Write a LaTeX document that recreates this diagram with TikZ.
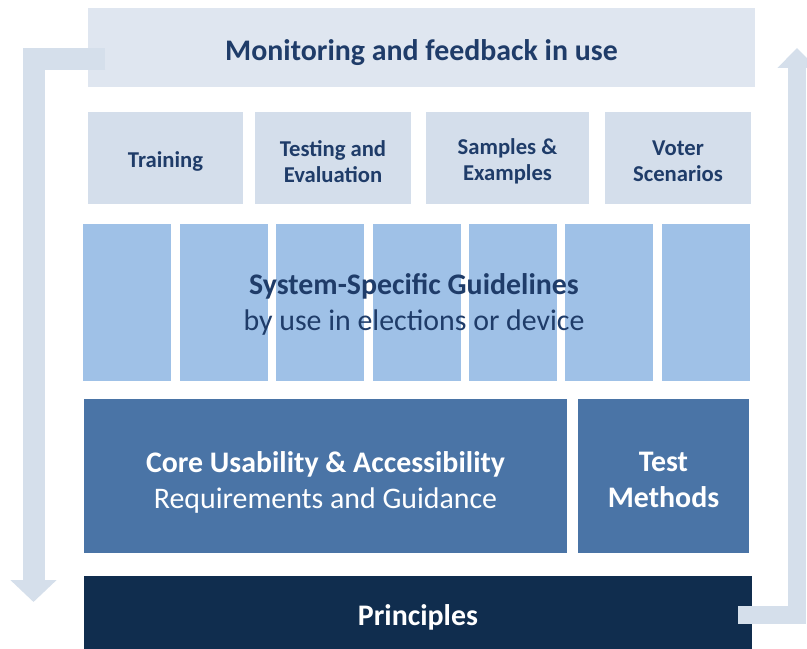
\documentclass[tikz,border=0pt]{standalone}
\usepackage{fontspec}
\setmainfont{Carlito}
\usetikzlibrary{arrows.meta}

\definecolor{topblue}{HTML}{DFE6F0}
\definecolor{rowblue}{HTML}{D4DEEB}
\definecolor{colblue}{HTML}{9FC1E7}
\definecolor{coreblue}{HTML}{4A74A6}
\definecolor{navy}{HTML}{102D4E}
\definecolor{inkblue}{HTML}{1F3C69}
\definecolor{loopblue}{HTML}{D5DFEB}

\begin{document}
\begin{tikzpicture}[x=0.75pt, y=-0.75pt,
  every node/.style={inner sep=0pt, outer sep=0pt, align=center},
  blk/.style 2 args={anchor=north west, minimum width=#1*0.75pt, minimum height=#2*0.75pt},
  bigtext/.style={font=\fontsize{22.4}{27}\selectfont},
  smalltext/.style={font=\fontsize{17}{19.5}\selectfont\bfseries, text=inkblue},
  loop/.style={draw=loopblue, line join=miter}]

  \useasboundingbox (0,0) rectangle (807,649);

  % Monitoring on top
  \node[blk={667}{79}, fill=topblue] (monitor) at (88,8) {};
  \node[bigtext, text=inkblue, yshift=-3.5pt] (monitortxt) at (monitor.center) {\textbf{Monitoring and feedback in use}};

  % Support materials
  \node[blk={155}{92}, fill=rowblue] (training) at (88,112) {};
  \node[blk={156}{92}, fill=rowblue] (testing) at (255,112) {};
  \node[blk={163}{92}, fill=rowblue] (samples) at (426,112) {};
  \node[blk={146}{92}, fill=rowblue] (voter) at (605,112) {};
  \node[smalltext, yshift=-2.5pt] (trainingtxt) at (training.center) {Training};
  \node[smalltext, yshift=-2.5pt] (testingtxt) at (testing.center) {Testing and\\Evaluation};
  \node[smalltext, yshift=-2.5pt] (samplestxt) at (samples.center) {Samples \&\\Examples};
  \node[smalltext, yshift=-2.5pt] (votertxt) at (voter.center) {Voter\\Scenarios};

  % Guideline columns
  \foreach \i/\x in {1/83, 2/180, 3/276, 4/373, 5/469, 6/565, 7/662}
    \node[blk={88}{157}, fill=colblue] (col\i) at (\x,224) {};
  \node[bigtext, text=inkblue] (guide) at (414,304) {\textbf{System-Specific Guidelines}\\by use in elections or device};

  % Core requirements and test methods
  \node[blk={483}{154}, fill=coreblue] (core) at (84,399) {};
  \node[blk={171}{154}, fill=coreblue] (methods) at (578,399) {};
  \node[bigtext, text=white, yshift=-4.5pt] (coretxt) at (core.center) {\textbf{Core Usability \& Accessibility}\\Requirements and Guidance};
  \node[bigtext, text=white, yshift=-3pt] (methodstxt) at (methods.center) {\textbf{Test}\\\textbf{Methods}};

  % Principles at the base
  \node[blk={668}{75}, fill=navy] (principles) at (84,576) {};
  \node[bigtext, text=white, yshift=-3pt] (principlestxt) at (principles.center) {\textbf{Principles}};

  % Feedback loop
  \coordinate (downstart) at (105,59);
  \coordinate (downend) at (33.5,602);
  \coordinate (upstart) at (738,615);
  \coordinate (upend) at (797,48);
  \draw[loop, line width=16.5pt, -{Triangle[length=16.5pt, width=33.75pt]}] (downstart) -| (downend);
  \draw[loop, line width=14pt, -{Triangle[length=15pt, width=28.5pt]}] (upstart) -| (upend);

\end{tikzpicture}
\end{document}
